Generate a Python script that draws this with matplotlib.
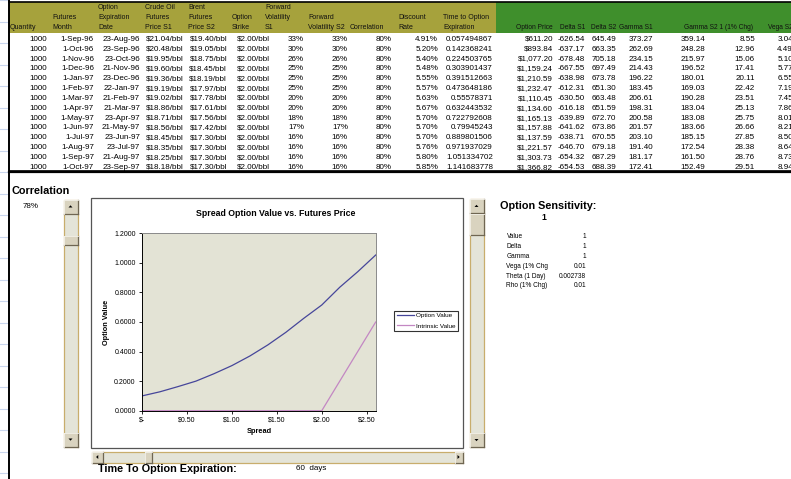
import matplotlib
matplotlib.use("Agg")
import matplotlib.pyplot as plt
from matplotlib.patches import Rectangle, Polygon

plt.rcParams['font.family'] = ['Liberation Sans', 'DejaVu Sans']

# ---------------- table data ----------------
quantity = [1000] * 14
futures_month = ["1-Sep-96", "1-Oct-96", "1-Nov-96", "1-Dec-96", "1-Jan-97", "1-Feb-97", "1-Mar-97",
                 "1-Apr-97", "1-May-97", "1-Jun-97", "1-Jul-97", "1-Aug-97", "1-Sep-97", "1-Oct-97"]
expiration_date = ["23-Aug-96", "23-Sep-96", "23-Oct-96", "21-Nov-96", "23-Dec-96", "22-Jan-97", "21-Feb-97",
                   "21-Mar-97", "23-Apr-97", "21-May-97", "23-Jun-97", "23-Jul-97", "21-Aug-97", "23-Sep-97"]
crude_s1 = [21.04, 20.48, 19.95, 19.60, 19.36, 19.19, 19.02, 18.86, 18.71, 18.56, 18.45, 18.35, 18.25, 18.18]
brent_s2 = [19.40, 19.05, 18.75, 18.45, 18.19, 17.97, 17.78, 17.61, 17.56, 17.42, 17.30, 17.30, 17.30, 17.30]
strike = [2.00] * 14
vol_s1 = [33, 30, 26, 25, 25, 25, 20, 20, 18, 17, 16, 16, 16, 16]
vol_s2 = [33, 30, 26, 25, 25, 25, 20, 20, 18, 17, 16, 16, 16, 16]
correlation = [80] * 14
discount_rate = [4.91, 5.20, 5.40, 5.48, 5.55, 5.57, 5.63, 5.67, 5.70, 5.70, 5.70, 5.76, 5.80, 5.85]
time_to_exp = ["0.057494867", "0.142368241", "0.224503765", "0.303901437", "0.391512663", "0.473648186",
               "0.55578371", "0.632443532", "0.722792608", "0.79945243", "0.889801506", "0.971937029",
               "1.051334702", "1.141683778"]
option_price = [611.20, 893.84, 1077.20, 1159.24, 1210.59, 1232.47, 1110.45, 1134.60, 1165.13, 1157.88,
                1137.59, 1221.57, 1303.73, 1366.82]
delta_s1 = [-626.54, -637.17, -678.48, -667.55, -638.98, -612.31, -630.50, -616.18, -639.89, -641.62,
            -638.71, -646.70, -654.32, -654.53]
delta_s2 = [645.49, 663.35, 705.18, 697.49, 673.78, 651.30, 663.48, 651.59, 672.70, 673.86, 670.55,
            679.18, 687.29, 688.39]
gamma_s1 = [373.27, 262.69, 234.15, 214.43, 196.22, 183.45, 206.61, 198.31, 200.58, 201.57, 203.10,
            191.40, 181.17, 172.41]
gamma_s2 = [359.14, 248.28, 215.97, 196.52, 180.01, 169.03, 190.28, 183.04, 183.08, 183.66, 185.15,
            172.54, 161.50, 152.49]
vega_s1 = [8.55, 12.96, 15.06, 17.41, 20.11, 22.42, 23.51, 25.13, 25.75, 26.66, 27.85, 28.38, 28.76, 29.51]
vega_s2 = [3.04, 4.49, 5.10, 5.77, 6.55, 7.19, 7.45, 7.86, 8.01, 8.21, 8.50, 8.64, 8.73, 8.94]

# ---------------- chart data ----------------
spread = [0.0, 0.2, 0.4, 0.6, 0.8, 1.0, 1.2, 1.4, 1.6, 1.8, 2.0, 2.2, 2.4, 2.6]
option_value = [0.100, 0.128, 0.163, 0.200, 0.250, 0.305, 0.370, 0.445, 0.530, 0.625, 0.715, 0.835,
                0.940, 1.053]
intrinsic_value = [0.0, 0.0, 0.0, 0.0, 0.0, 0.0, 0.0, 0.0, 0.0, 0.0, 0.0, 0.2, 0.4, 0.6]
x_ticks = [0.0, 0.5, 1.0, 1.5, 2.0, 2.5]
x_tick_labels = ["$-", "$0.50", "$1.00", "$1.50", "$2.00", "$2.50"]
y_ticks = [0.0, 0.2, 0.4, 0.6, 0.8, 1.0, 1.2]

sens_labels = ["Value", "Delta", "Gamma", "Vega (1% Chg", "Theta (1 Day)", "Rho (1% Chg)"]
sens_values = ["1", "1", "1", "0.01", "0.002738", "0.01"]

# ---------------- canvas ----------------
W, H = 791, 479
fig = plt.figure(figsize=(W / 100, H / 100), dpi=100)
bg = fig.add_axes([0, 0, 1, 1])
bg.set_xlim(0, W)
bg.set_ylim(H, 0)
bg.axis('off')

FS = 5.8     # table body
HFS = 5.0    # table headers
GFS = 4.8    # headers on the green band
SFS = 4.7    # sensitivity block
BFS = 7.8    # bold section captions

# spreadsheet gridlines on the far left
y = 0.3
while y < H:
    bg.plot([0, 8], [y, y], color='#c9d6ee', lw=0.8)
    y += 21.5
bg.plot([9, 9], [0, H], color='black', lw=1.4)

# header bands
bg.add_patch(Rectangle((9, 2), 487, 30.5, facecolor='#a6a23c', edgecolor='none'))
bg.add_patch(Rectangle((496, 2), W - 496, 30.5, facecolor='#3f8f2c', edgecolor='none'))
bg.plot([9, W], [1.6, 1.6], color='black', lw=1.2)

LINE_Y = [7.0, 17.0, 27.0]
headers = [
    (10, ["", "", "Quantity"]),
    (52, ["", "Futures", "Month"]),
    (98, ["Option", "Expiration", "Date"]),
    (145, ["Crude Oil", "Futures", "Price S1"]),
    (188, ["Brent", "Futures", "Price S2"]),
    (232, ["", "Option", "Strike"]),
    (265, ["Forward", "Volatility", "S1"]),
    (308, ["", "Forward", "Volatility S2"]),
    (350, ["", "", "Correlation"]),
    (398, ["", "Discount", "Rate"]),
    (443, ["", "Time to Option", "Expiration"]),
]
for x0, lines in headers:
    for ly, t in zip(LINE_Y, lines):
        if t:
            bg.text(x0, ly, t, fontsize=HFS, ha='left', va='center', color='#111111')

green_headers = [(553, "Option Price"), (585, "Delta S1"), (616, "Delta S2"), (653, "Gamma S1"),
                 (753, "Gamma S2 1 (1% Chg)"), (793, "Vega S2")]
for xr, t in green_headers:
    bg.text(xr, LINE_Y[2], t, fontsize=GFS, ha='right', va='center', color='#111111')

# table body
columns = [
    (47, [str(q) for q in quantity]),
    (94, futures_month),
    (140, expiration_date),
    (184, [f"${v:.2f}/bbl" for v in crude_s1]),
    (227, [f"${v:.2f}/bbl" for v in brent_s2]),
    (270, [f"${v:.2f}/bbl" for v in strike]),
    (304, [f"{v}%" for v in vol_s1]),
    (348, [f"{v}%" for v in vol_s2]),
    (392, [f"{v}%" for v in correlation]),
    (438, [f"{v:.2f}%" for v in discount_rate]),
    (493, time_to_exp),
    (553, [f"${v:,.2f}" for v in option_price]),
    (585, [f"{v:.2f}" for v in delta_s1]),
    (616, [f"{v:.2f}" for v in delta_s2]),
    (653, [f"{v:.2f}" for v in gamma_s1]),
    (705, [f"{v:.2f}" for v in gamma_s2]),
    (755, [f"{v:.2f}" for v in vega_s1]),
    (793, [f"{v:.2f}" for v in vega_s2]),
]
ROW0, ROWH = 39.3, 9.85
for xr, vals in columns:
    for i, v in enumerate(vals):
        bg.text(xr, ROW0 + i * ROWH, v, fontsize=FS, ha='right', va='center', color='black')

bg.plot([9, W], [170.0, 170.0], color='black', lw=0.6)
bg.plot([9, W], [172.3, 172.3], color='black', lw=1.6)


# ---------------- scrollbars ----------------
def button(x, y, w, h, direction=None):
    bg.add_patch(Rectangle((x, y), w, h, facecolor='#d9d3bf', edgecolor='none', zorder=3))
    bg.plot([x, x + w], [y + h, y + h], color='#6f6652', lw=0.9, zorder=4)
    bg.plot([x + w, x + w], [y, y + h], color='#6f6652', lw=0.9, zorder=4)
    bg.plot([x, x + w], [y + 0.4, y + 0.4], color='#f4f2ea', lw=0.6, zorder=4)
    bg.plot([x + 0.4, x + 0.4], [y, y + h], color='#f4f2ea', lw=0.6, zorder=4)
    if direction is None:
        return
    cx, cy = x + w / 2, y + h / 2
    s = 2.0
    if direction == 'up':
        pts = [(cx - s, cy + 1), (cx + s, cy + 1), (cx, cy - 1.2)]
    elif direction == 'down':
        pts = [(cx - s, cy - 1), (cx + s, cy - 1), (cx, cy + 1.2)]
    elif direction == 'left':
        pts = [(cx + 1, cy - s), (cx + 1, cy + s), (cx - 1.2, cy)]
    else:
        pts = [(cx - 1, cy - s), (cx - 1, cy + s), (cx + 1.2, cy)]
    bg.add_patch(Polygon(pts, closed=True, facecolor='black', edgecolor='none', zorder=5))


def track(x, y, w, h):
    bg.add_patch(Rectangle((x, y), w, h, facecolor='#e4e4d8', edgecolor='#c8ad6c', lw=0.9, zorder=2))


# left (correlation) scrollbar
track(63.5, 199.5, 14, 247)
button(63.5, 199.5, 14, 14, 'up')
button(63.5, 432.5, 14, 14, 'down')
button(63.5, 235.5, 14, 9)

# right (sensitivity) scrollbar
track(469.5, 199.0, 14, 248)
button(469.5, 199.0, 14, 14, 'up')
button(469.5, 433.0, 14, 14, 'down')
button(469.5, 214.0, 14, 21)

# bottom (time) scrollbar
track(91.5, 451.5, 371, 11)
button(91.5, 451.5, 11.5, 11, 'left')
button(454.5, 451.5, 8, 11, 'right')
button(145, 451.5, 6.5, 11)

# ---------------- labels around the chart ----------------
bg.text(11, 191, "Correlation", fontsize=BFS, fontweight='bold', ha='left', va='center')
bg.text(23, 206, "78%", fontsize=FS, ha='left', va='center')
bg.text(98, 469, "Time To Option Expiration:", fontsize=BFS, fontweight='bold', ha='left', va='center')
bg.text(296, 469, "60  days", fontsize=FS, ha='left', va='center')

bg.text(500.5, 206, "Option Sensitivity:", fontsize=BFS, fontweight='bold', ha='left', va='center')
bg.text(541.5, 217, "1", fontsize=6.2, fontweight='bold', ha='left', va='center')
for i, (lab, val) in enumerate(zip(sens_labels, sens_values)):
    yy = 236.8 + i * 9.8
    bg.text(506.5, yy, lab, fontsize=SFS, ha='left', va='center')
    bg.text(586, yy, val, fontsize=SFS, ha='right', va='center')

# chart frame
bg.add_patch(Rectangle((91, 198.3), 371.7, 250, facecolor='white', edgecolor='#555555', lw=0.9, zorder=1))
bg.text(276, 213, "Spread Option Value vs. Futures Price", fontsize=6.3, fontweight='bold',
        ha='center', va='center', zorder=3)
bg.text(106.5, 322, "Option Value", fontsize=5.3, fontweight='bold', rotation=90,
        ha='center', va='center', zorder=3)
bg.text(259, 431.5, "Spread", fontsize=5.3, fontweight='bold', ha='center', va='center', zorder=3)

# ---------------- chart ----------------
px_l, px_r, px_t, px_b = 142.0, 375.7, 233.3, 410.7
ax = fig.add_axes([px_l / W, 1 - px_b / H, (px_r - px_l) / W, (px_b - px_t) / H], zorder=5)
ax.set_facecolor('#e3e3d5')
ax.plot(spread, option_value, color='#46469a', lw=0.9, label='Option Value')
ax.plot(spread, intrinsic_value, color='#c387c3', lw=0.9, label='Intrinsic Value')
ax.set_xlim(0, 2.6)
ax.set_ylim(0, 1.2)
ax.set_xticks(x_ticks)
ax.set_xticklabels(x_tick_labels)
ax.set_yticks(y_ticks)
ax.set_yticklabels([f"{v:.4f}" for v in y_ticks])
ax.tick_params(axis='both', labelsize=5, length=2.5, width=0.6, pad=2, direction='out')
for side in ['top', 'right']:
    ax.spines[side].set_color('#8a8a8a')
    ax.spines[side].set_linewidth(0.7)
for side in ['left', 'bottom']:
    ax.spines[side].set_color('black')
    ax.spines[side].set_linewidth(0.7)

leg = ax.legend(loc='upper left', bbox_to_anchor=(394.3 / W, 1 - 310.7 / H),
                bbox_transform=fig.transFigure, fontsize=4.6, frameon=True, fancybox=False,
                borderaxespad=0, handlelength=2.7, handletextpad=0.35, borderpad=0.35,
                labelspacing=0.75)
leg.get_frame().set_edgecolor('black')
leg.get_frame().set_linewidth(0.8)

fig.savefig("out.png", dpi=100)
